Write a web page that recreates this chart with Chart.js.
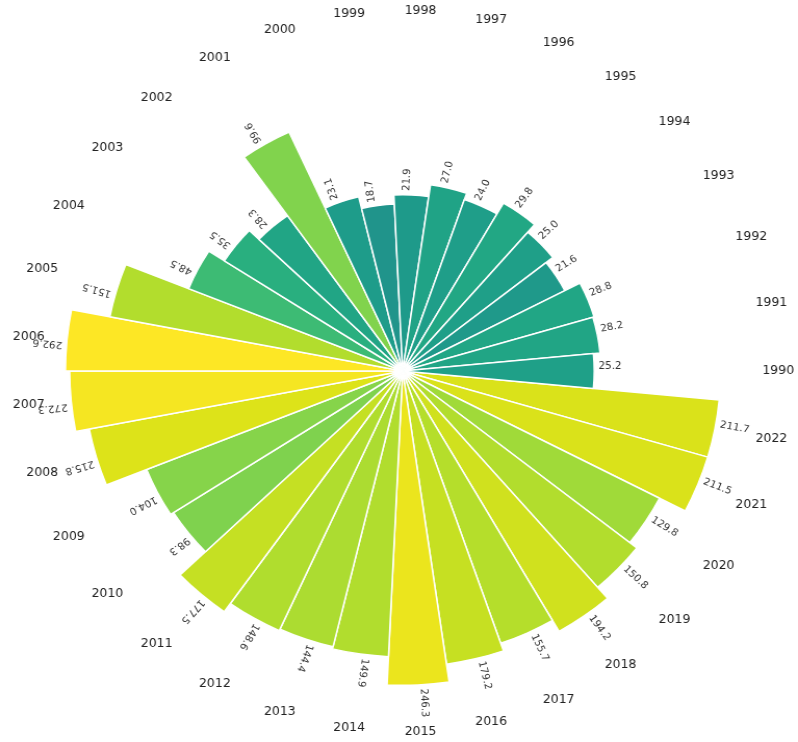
<!DOCTYPE html>
<html lang="en">
<head>
  <meta charset="UTF-8" />
  <title>Circular bar chart 1990-2022</title>
  <style>
    body {
      margin: 0;
      background: #ffffff;
      overflow: hidden;
    }

    /* the reference is slightly wider than tall, so the chart is stretched a bit */
    #wrap {
      width: 767px;
      height: 742px;
      transform: scaleX(1.0404);
      transform-origin: 0 0;
    }
  </style>
</head>
<body>
  <div id="wrap">
    <canvas id="chart"></canvas>
  </div>

  <script src="https://cdn.jsdelivr.net/npm/chart.js"></script>
  <script>
    const years = [
      '1990', '1991', '1992', '1993', '1994', '1995', '1996', '1997', '1998', '1999',
      '2000', '2001', '2002', '2003', '2004', '2005', '2006', '2007', '2008', '2009',
      '2010', '2011', '2012', '2013', '2014', '2015', '2016', '2017', '2018', '2019',
      '2020', '2021', '2022'
    ];
    const values = [
      25.2, 28.2, 28.8, 21.6, 25.0, 29.8, 24.0, 27.0, 21.9, 18.7,
      23.1, 99.6, 28.3, 35.5, 48.5, 151.5, 292.6, 272.3, 215.8, 104.0,
      98.3, 177.5, 148.6, 144.4, 149.9, 246.3, 179.2, 155.7, 194.2, 150.8,
      129.8, 211.5, 211.7
    ];

    // viridis colormap stops
    const viridis = [
      '#440154', '#482475', '#414487', '#355f8d', '#2a788e',
      '#21918c', '#1e9b8a', '#22a884', '#2fb47c', '#44bf70',
      '#5ec962', '#7ad151', '#9bd93c', '#bddf26', '#dfe318', '#fde725'
    ];
    const stopPos = [0, 0.1, 0.2, 0.3, 0.4, 0.5, 0.55, 0.6, 0.65, 0.7, 0.75, 0.8, 0.85, 0.9, 0.95, 1];

    function hexToRgb(h) {
      return [parseInt(h.slice(1, 3), 16), parseInt(h.slice(3, 5), 16), parseInt(h.slice(5, 7), 16)];
    }

    function viridisAt(t) {
      t = Math.max(0, Math.min(1, t));
      let i = 0;
      while (i < stopPos.length - 2 && t > stopPos[i + 1]) i++;
      const f = (t - stopPos[i]) / (stopPos[i + 1] - stopPos[i]);
      const a = hexToRgb(viridis[i]);
      const b = hexToRgb(viridis[i + 1]);
      const c = a.map((v, k) => Math.round(v + (b[k] - v) * f));
      return `rgb(${c[0]},${c[1]},${c[2]})`;
    }

    // bars are drawn on a log scale, counter-clockwise from the east
    const maxLog = Math.log(Math.max(...values));
    const chartYears = years.slice().reverse();
    const chartValues = values.slice().reverse();
    const logValues = chartValues.map(v => Math.log(v));
    const colors = logValues.map(l => viridisAt(l / maxLog));

    const step = 360 / years.length;

    // value labels along each bar and year labels around the circle
    const labelPlugin = {
      id: 'barLabels',
      afterDatasetsDraw(chart) {
        const ctx = chart.ctx;
        const scale = chart.scales.r;
        const meta = chart.getDatasetMeta(0);
        meta.data.forEach((arc, i) => {
          const a = (arc.startAngle + arc.endAngle) / 2;
          const r = arc.outerRadius + 4;

          ctx.save();
          ctx.translate(arc.x + Math.cos(a) * r, arc.y + Math.sin(a) * r);
          ctx.rotate(a);
          ctx.font = '10px "DejaVu Sans"';
          ctx.fillStyle = '#333333';
          ctx.textAlign = 'left';
          ctx.textBaseline = 'bottom';
          ctx.fillText(chartValues[i].toFixed(1), 0, 0);
          ctx.restore();

          const ry = scale.drawingArea - 10;
          ctx.save();
          ctx.font = '12px "DejaVu Sans"';
          ctx.fillStyle = '#222222';
          ctx.textAlign = 'center';
          ctx.textBaseline = 'middle';
          ctx.fillText(chartYears[i], arc.x + Math.cos(a) * ry, arc.y + Math.sin(a) * ry);
          ctx.restore();
        });
      }
    };

    new Chart(document.getElementById('chart'), {
      type: 'polarArea',
      data: {
        labels: chartYears,
        datasets: [{
          data: logValues,
          backgroundColor: colors,
          borderColor: '#ffffff',
          borderWidth: 1.5
        }]
      },
      options: {
        responsive: true,
        maintainAspectRatio: false,
        animation: false,
        layout: { padding: { left: 8 } },
        plugins: {
          legend: { display: false },
          tooltip: { enabled: false }
        },
        scales: {
          r: {
            min: 0,
            max: 6.5,
            startAngle: 90 + step / 2,
            ticks: { display: false },
            grid: { display: false },
            angleLines: { display: false },
            pointLabels: { display: false }
          }
        }
      },
      plugins: [labelPlugin]
    });
  </script>
</body>
</html>
